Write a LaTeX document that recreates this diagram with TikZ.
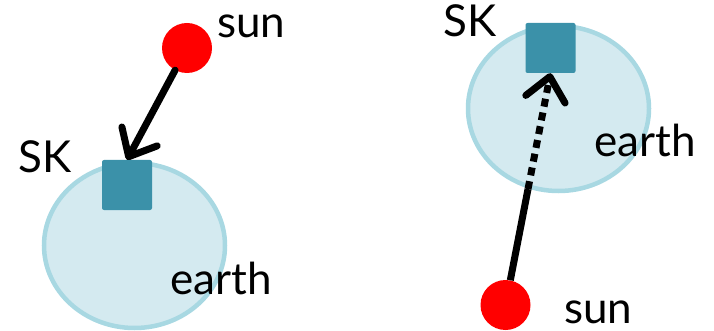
\documentclass[tikz,border=0pt]{standalone}
\usepackage{fontspec}
\setmainfont{Lato}
\usetikzlibrary{arrows.meta,shapes.geometric,positioning,calc}
\definecolor{sunred}{HTML}{FF0000}
\definecolor{craftblue}{HTML}{3B91A9}
\definecolor{earthfill}{HTML}{D4EAF0}
\definecolor{earthline}{HTML}{A8D8E2}

\begin{document}
\begin{tikzpicture}[x=1pt, y=-1pt,
  every node/.style={font=\fontsize{44}{50}\selectfont},
  planet/.style={ellipse, draw=earthline, fill=earthfill, line width=4.5pt,
                 minimum width=181pt, minimum height=165pt, inner sep=0},
  star/.style={circle, fill=sunred, minimum size=50pt, inner sep=0},
  probe/.style={rectangle, rounded corners=2pt, fill=craftblue,
                minimum size=50pt, inner sep=0},
  lbl/.style={anchor=base west, inner sep=0},
  arr/.style={-{Straight Barb[round, length=23pt, width=40pt]}, line width=7pt},
]
\useasboundingbox (0,0) rectangle (714,331);

% left: sun above the spacecraft
\node[planet] (earthL) at (134.5,245.5) {};
\node[probe] (skL) at (127,185) {};
\node[star] (sunL) at (187,48) {};
\draw[arr, line cap=round] (sunL) -- (skL.north);

\node[lbl] (sunLtxt) at (217,38) {sun};
\node[lbl] (skLtxt) at (18,173) {SK};
\node[lbl] (earthLtxt) at (170,294) {earth};

% right: sun below, light passes through the earth
\node[planet] (earthR) at (558.5,108.5) {};
\node[probe] (skR) at (550.5,48) {};
\node[star] (sunR) at (505.5,305) {};
\coordinate (enterR) at ($(sunR)!0.5!(skR.south)$);
\draw[line width=7pt] (sunR) -- (enterR);
\draw[arr, dash pattern=on 8pt off 6pt] (enterR) -- (skR.south);

\node[lbl] (skRtxt) at (443,37) {SK};
\node[lbl] (earthRtxt) at (594,157) {earth};
\node[lbl] (sunRtxt) at (564,323) {sun};

\end{tikzpicture}
\end{document}
